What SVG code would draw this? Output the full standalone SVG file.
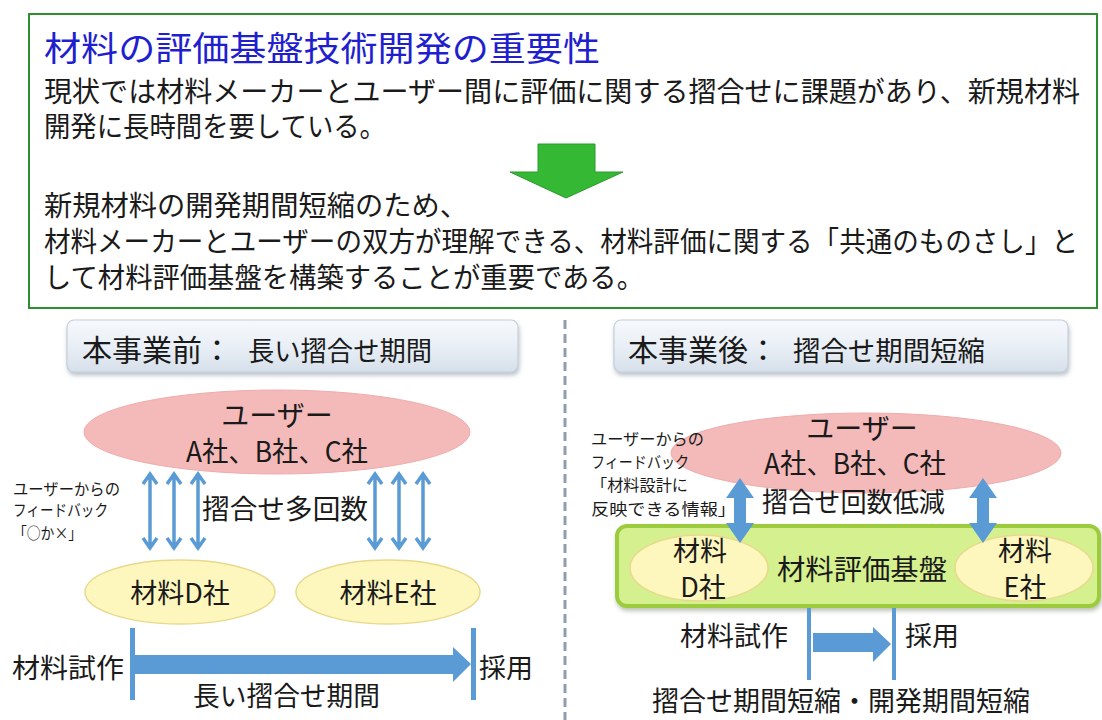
<svg xmlns="http://www.w3.org/2000/svg" width="1102" height="720" viewBox="0 0 1102 720">
<style>
.t{font-family:"Noto Sans CJK JP","Noto Sans",sans-serif;fill:#1a1a1a;}
.b{font-size:28px;}
.s{font-size:16px;}
.m{font-size:27px;}
.ttl{font-size:34px;fill:#1f1fd0;}
.blue{fill:#5b9bd5;}
.thin{stroke:#5b9bd5;stroke-width:3.5;fill:none;stroke-linejoin:miter;}
.hdr{fill:url(#hg);stroke:#c5cfda;stroke-width:1.2;filter:url(#sh);}
.pink{fill:#f4b9b9;stroke:#f0acac;stroke-width:1;}
.yel{fill:#fdf6bd;stroke:#e8d98c;stroke-width:1.5;}
</style>
<defs>
<linearGradient id="hg" x1="0" y1="0" x2="0" y2="1">
<stop offset="0" stop-color="#f6f9fc"/>
<stop offset="0.5" stop-color="#e9eff6"/>
<stop offset="1" stop-color="#d6e0ea"/>
</linearGradient>
<filter id="sh" x="-5%" y="-20%" width="110%" height="150%">
<feDropShadow dx="1" dy="3" stdDeviation="2" flood-color="#7a8898" flood-opacity="0.5"/>
</filter>
<filter id="sh2" x="-5%" y="-20%" width="110%" height="150%">
<feDropShadow dx="1" dy="3" stdDeviation="2" flood-color="#6a7a5a" flood-opacity="0.45"/>
</filter>
</defs>
<rect width="1102" height="720" fill="#ffffff"/>

<g id="summary">
<rect x="29" y="14" width="1068" height="294" fill="#ffffff" stroke="#2f8f2f" stroke-width="2"/>
<text class="t ttl" x="44" y="61" textLength="556" lengthAdjust="spacingAndGlyphs">材料の評価基盤技術開発の重要性</text>
<text class="t b" x="44" y="102" textLength="1036" lengthAdjust="spacingAndGlyphs">現状では材料メーカーとユーザー間に評価に関する摺合せに課題があり、新規材料</text>
<text class="t b" x="44" y="137" textLength="342" lengthAdjust="spacingAndGlyphs">開発に長時間を要している。</text>
<polygon points="538,144 595,144 595,172 623,172 566,198 510,172 538,172" fill="#35b935" stroke="#2b9a2b" stroke-width="1"/>
<text class="t b" x="44" y="216" textLength="424" lengthAdjust="spacingAndGlyphs">新規材料の開発期間短縮のため、</text>
<text class="t b" x="44" y="252" textLength="1034" lengthAdjust="spacingAndGlyphs">材料メーカーとユーザーの双方が理解できる、材料評価に関する「共通のものさし」と</text>
<text class="t b" x="44" y="288" textLength="600" lengthAdjust="spacingAndGlyphs">して材料評価基盤を構築することが重要である。</text>
</g>

<line id="divider" x1="565" y1="320" x2="565" y2="720" stroke="#8d9db2" stroke-width="3" stroke-dasharray="9,5"/>

<g id="before-header">
<rect class="hdr" x="67" y="320" width="451" height="52" rx="7"/>
<text class="t" x="82" y="361" font-size="30">本事業前：</text>
<text class="t m" x="248" y="361" textLength="184" lengthAdjust="spacingAndGlyphs">長い摺合せ期間</text>
</g>

<g id="after-header">
<rect class="hdr" x="614" y="320" width="454" height="52" rx="7"/>
<text class="t" x="628" y="361" font-size="30">本事業後：</text>
<text class="t m" x="793" y="361" textLength="192" lengthAdjust="spacingAndGlyphs">摺合せ期間短縮</text>
</g>

<g id="before-users">
<ellipse class="pink" cx="277" cy="432" rx="193" ry="42"/>
<text class="t b" x="277" y="426" text-anchor="middle">ユーザー</text>
<text class="t b" x="277" y="462" text-anchor="middle" textLength="182" lengthAdjust="spacingAndGlyphs">A社、B社、C社</text>
</g>

<g id="before-feedback">
<text class="t s" x="13" y="495" textLength="107" lengthAdjust="spacingAndGlyphs">ユーザーからの</text>
<text class="t s" x="13" y="516" textLength="95" lengthAdjust="spacingAndGlyphs">フィードバック</text>
<text class="t s" x="13" y="539" textLength="69" lengthAdjust="spacingAndGlyphs">「○か×」</text>
</g>

<g id="before-d">
<ellipse class="yel" cx="180" cy="592" rx="95" ry="32"/>
<text class="t m" x="180" y="603" text-anchor="middle">材料D社</text>
</g>
<g id="before-e">
<ellipse class="yel" cx="388" cy="592" rx="92" ry="32"/>
<text class="t m" x="388" y="603" text-anchor="middle">材料E社</text>
</g>

<text class="t m" x="202" y="519" textLength="166" lengthAdjust="spacingAndGlyphs">摺合せ多回数</text>

<g id="before-timeline">
<rect class="blue" x="130" y="628" width="5" height="72"/>
<rect class="blue" x="471" y="628" width="5" height="72"/>
<polygon class="blue" points="135,655 453,655 453,647 471,664 453,682 453,674 135,674"/>
<text class="t m" x="12" y="678" textLength="112" lengthAdjust="spacingAndGlyphs">材料試作</text>
<text class="t m" x="479" y="678">採用</text>
<text class="t m" x="193" y="706" textLength="187" lengthAdjust="spacingAndGlyphs">長い摺合せ期間</text>
</g>

<g id="after-users">
<ellipse class="pink" cx="866" cy="453" rx="195" ry="40"/>
<text class="t b" x="862" y="439" text-anchor="middle">ユーザー</text>
<text class="t b" x="855" y="474" text-anchor="middle" textLength="182" lengthAdjust="spacingAndGlyphs">A社、B社、C社</text>
</g>

<g id="after-feedback">
<text class="t s" x="591" y="445" textLength="113" lengthAdjust="spacingAndGlyphs">ユーザーからの</text>
<text class="t s" x="591" y="468" textLength="98" lengthAdjust="spacingAndGlyphs">フィードバック</text>
<text class="t s" x="591" y="491" textLength="97" lengthAdjust="spacingAndGlyphs">「材料設計に</text>
<text class="t s" x="591" y="515" textLength="145" lengthAdjust="spacingAndGlyphs">反映できる情報」</text>
</g>
<text class="t m" x="762" y="512" textLength="183" lengthAdjust="spacingAndGlyphs">摺合せ回数低減</text>

<g id="platform">
<rect x="617" y="526" width="482" height="80" rx="10" fill="#d5f08f" stroke="#9ccc3c" stroke-width="4" filter="url(#sh2)"/>
<text class="t b" x="862" y="580" text-anchor="middle" textLength="170" lengthAdjust="spacingAndGlyphs">材料評価基盤</text>
</g>
<g id="after-d">
<ellipse class="yel" cx="699" cy="568" rx="69" ry="33"/>
<text class="t m" x="700" y="561" text-anchor="middle">材料</text>
<text class="t m" x="703" y="597" text-anchor="middle">D社</text>
</g>
<g id="after-e">
<ellipse class="yel" cx="1024" cy="568" rx="69" ry="33"/>
<text class="t m" x="1025" y="561" text-anchor="middle">材料</text>
<text class="t m" x="1025" y="597" text-anchor="middle">E社</text>
</g>

<g id="after-timeline">
<rect class="blue" x="807" y="608" width="4" height="72"/>
<rect class="blue" x="892" y="608" width="4" height="72"/>
<polygon class="blue" points="813,633 873,633 873,627 891,644 873,662 873,652 813,652"/>
<text class="t m" x="680" y="646" textLength="108" lengthAdjust="spacingAndGlyphs">材料試作</text>
<text class="t m" x="905" y="646">採用</text>
<text class="t m" x="652" y="711" textLength="378" lengthAdjust="spacingAndGlyphs">摺合せ期間短縮・開発期間短縮</text>
</g>

<g id="connectors">
<path class="thin" d="M150,475 V547 M143,484 L150,474 L157,484 M143,538 L150,548 L157,538"/>
<path class="thin" d="M174,475 V547 M167,484 L174,474 L181,484 M167,538 L174,548 L181,538"/>
<path class="thin" d="M198,475 V547 M191,484 L198,474 L205,484 M191,538 L198,548 L205,538"/>
<path class="thin" d="M375,475 V547 M368,484 L375,474 L382,484 M368,538 L375,548 L382,538"/>
<path class="thin" d="M399,475 V547 M392,484 L399,474 L406,484 M392,538 L399,548 L406,538"/>
<path class="thin" d="M423,475 V547 M416,484 L423,474 L430,484 M416,538 L423,548 L430,538"/>
<polygon class="blue" points="740,478 754,498 746,498 746,523 754,523 740,543 726,523 734,523 734,498 726,498"/>
<polygon class="blue" points="983,478 997,498 989,498 989,523 997,523 983,543 969,523 977,523 977,498 969,498"/>
</g>
</svg>
